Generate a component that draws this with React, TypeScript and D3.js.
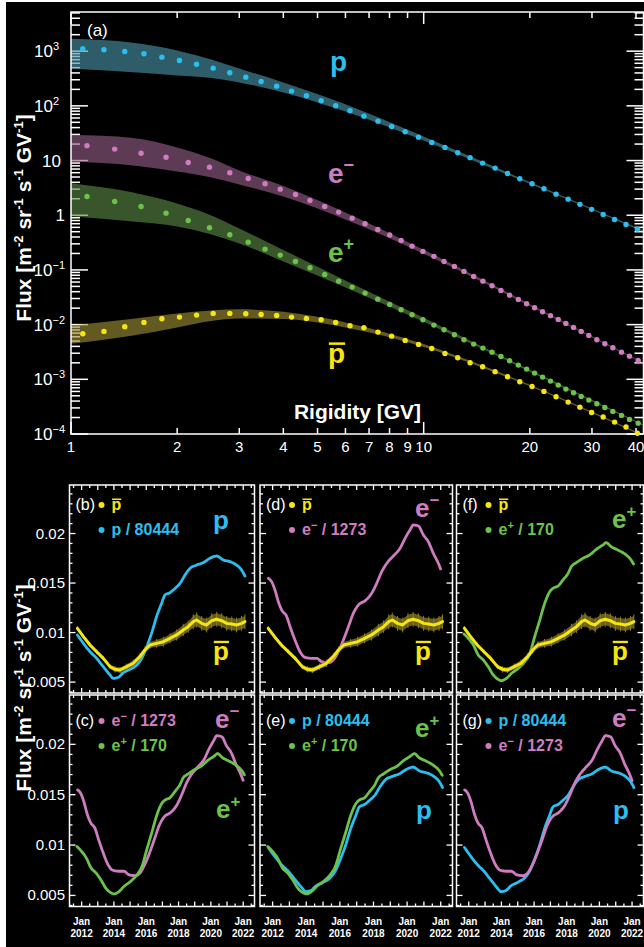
import React from 'react';
import * as d3 from 'd3';

const FONT = "'Liberation Sans', Arial, Helvetica, sans-serif";
const CYAN = '#2bbfef';
const PINK = '#d07cc0';
const GREEN = '#6cc24a';
const YELLOW = '#f5e612';
const OLIVE = '#8a7e22';

// ---------- Panel (a): spectra ----------
const protonRigidity = [1.08, 1.24, 1.42, 1.61, 1.81, 2.03, 2.27, 2.53, 2.82, 3.13, 3.46, 3.83, 4.22, 4.65, 5.12, 5.63, 6.18, 6.77, 7.42, 8.11, 8.86, 9.67, 10.54, 11.49, 12.49, 13.54, 14.69, 15.94, 17.29, 18.73, 20.29, 21.93, 23.73, 25.68, 27.73, 29.93, 32.28, 34.78, 37.47, 40.37];
const protonFlux = [1107, 1061, 987, 896, 776, 676, 578, 489, 403, 335, 279, 229, 186, 153, 124, 100.5, 81.3, 64.8, 52.5, 42.0, 33.6, 26.8, 21.4, 17.4, 13.9, 11.3, 8.98, 7.27, 5.81, 4.65, 3.77, 3.05, 2.43, 1.97, 1.58, 1.28, 1.035, 0.838, 0.679, 0.557];
const antiprotonFlux = [6.82e-3, 7.52e-3, 9.16e-3, 1.097e-2, 1.282e-2, 1.371e-2, 1.492e-2, 1.603e-2, 1.603e-2, 1.58e-2, 1.535e-2, 1.472e-2, 1.371e-2, 1.297e-2, 1.228e-2, 1.097e-2, 9.55e-3, 8.78e-3, 7.29e-3, 6.16e-3, 5.14e-3, 4.35e-3, 3.67e-3, 2.97e-3, 2.48e-3, 2.01e-3, 1.70e-3, 1.38e-3, 1.115e-3, 9.03e-4, 7.41e-4, 6.01e-4, 4.81e-4, 3.83e-4, 3.10e-4, 2.48e-4, 2.04e-4, 1.65e-4, 1.34e-4, 1.03e-4];
const leptonRigidity = [1.11, 1.33, 1.58, 1.86, 2.15, 2.47, 2.82, 3.18, 3.55, 3.92, 4.33, 4.76, 5.24, 5.74, 6.27, 6.82, 7.41, 8.01, 8.63, 9.27, 9.95, 10.69, 11.42, 12.22, 13.01, 13.86, 14.72, 15.62, 16.56, 17.52, 18.55, 19.58, 20.63, 21.73, 22.89, 24.07, 25.30, 26.60, 27.97, 29.39, 30.97, 32.63, 34.38, 36.38, 38.33, 40.57];
const electronFlux = [18.7, 16.2, 13.6, 11.5, 9.23, 7.57, 5.98, 4.71, 3.77, 3.00, 2.40, 1.86, 1.45, 1.14, 0.885, 0.700, 0.550, 0.436, 0.346, 0.272, 0.218, 0.177, 0.143, 0.116, 0.0939, 0.0760, 0.0624, 0.0514, 0.0422, 0.0346, 0.0289, 0.0241, 0.0204, 0.0172, 0.0146, 0.01245, 0.01052, 0.00889, 0.00751, 0.00635, 0.00530, 0.00448, 0.00378, 0.00314, 0.00265, 0.00221];
const positronFlux = [2.207, 1.788, 1.448, 1.092, 0.803, 0.591, 0.440, 0.322, 0.240, 0.1865, 0.1430, 0.1097, 0.0827, 0.0624, 0.0485, 0.0377, 0.0292, 0.0234, 0.01873, 0.01517, 0.01229, 0.00979, 0.00807, 0.00654, 0.00530, 0.00440, 0.00372, 0.00314, 0.00262, 0.00219, 0.00182, 0.001537, 0.001298, 0.001097, 0.000927, 0.000783, 0.000662, 0.000569, 0.000487, 0.000417, 0.000358, 0.000306, 0.000259, 0.000219, 0.000185, 0.000158];

// time-variation bands (min / max over the period)
const bandRigidity = [1, 1.5, 2, 2.5, 3, 4, 6, 10, 15, 20, 42];
const protonBandHigh = [1685, 1424, 1030, 705, 483, 268, 107, 27.6, 8.98, 4.05, 0.525];
const protonBandLow = [476, 413, 360, 324, 268, 176, 79, 23.3, 8.05, 3.75, 0.495];
const electronBandHigh = [29.6, 25.9, 17.4, 10.9, 6.59, 3.43, 1.125, 0.234, 0.062, 0.0236, 0.00203];
const electronBandLow = [9.63, 8.13, 6.32, 4.91, 3.66, 2.21, 0.838, 0.198, 0.056, 0.0218, 0.00193];
const positronBandHigh = [3.86, 2.61, 1.64, 0.991, 0.574, 0.232, 0.0643, 0.01336, 0.00371, 0.00149, 0.000149];
const positronBandLow = [0.963, 0.770, 0.624, 0.446, 0.305, 0.143, 0.0479, 0.0113, 0.00336, 0.00138, 0.000141];
const antiprotonBandHigh = [9.67e-3, 1.282e-2, 1.603e-2, 1.82e-2, 1.90e-2, 1.71e-2, 1.097e-2, 4.4e-3, 1.69e-3, 7.96e-4, 9.6e-5];
const antiprotonBandLow = [4.48e-3, 6.35e-3, 8.89e-3, 1.17e-2, 1.30e-2, 1.27e-2, 8.89e-3, 3.9e-3, 1.55e-3, 7.45e-4, 9.0e-5];

const xTickMajor = [1, 10];
const xTickLabels = [1, 2, 3, 4, 5, 6, 7, 8, 9, 10, 20, 30, 40];
const yDecades = [-4, -3, -2, -1, 0, 1, 2, 3];

// ---------- Panels (b)-(g): time series ----------
const protonTime = [2011.74, 2012.11, 2012.52, 2012.93, 2013.34, 2013.76, 2013.96, 2014.27, 2014.58, 2014.99, 2015.41, 2015.72, 2016.03, 2016.33, 2016.64, 2016.95, 2017.16, 2017.47, 2017.78, 2018.09, 2018.40, 2018.71, 2019.12, 2019.53, 2019.94, 2020.36, 2020.77, 2021.18, 2021.59, 2021.90, 2022.11];
const protonScaled = [0.00976, 0.00891, 0.00807, 0.00740, 0.00656, 0.00572, 0.00538, 0.00548, 0.00595, 0.00629, 0.00673, 0.00740, 0.00858, 0.00992, 0.01161, 0.01295, 0.01379, 0.01403, 0.01446, 0.01497, 0.01581, 0.01648, 0.01682, 0.01706, 0.01750, 0.01773, 0.01733, 0.01716, 0.01682, 0.01632, 0.01571];
const electronTime = [2011.75, 2011.94, 2012.14, 2012.34, 2012.54, 2012.84, 2013.04, 2013.33, 2013.63, 2013.93, 2014.32, 2014.62, 2014.92, 2015.32, 2015.61, 2015.91, 2016.21, 2016.51, 2016.80, 2017.10, 2017.50, 2017.89, 2018.19, 2018.49, 2018.79, 2019.18, 2019.58, 2019.88, 2020.17, 2020.37, 2020.67, 2020.97, 2021.26, 2021.56, 2021.86, 2022.00];
const electronScaled = [0.01548, 0.01514, 0.01430, 0.01312, 0.01228, 0.01161, 0.01060, 0.00925, 0.00807, 0.00750, 0.00740, 0.00740, 0.00706, 0.00696, 0.00723, 0.00807, 0.00925, 0.01060, 0.01194, 0.01278, 0.01322, 0.01396, 0.01497, 0.01615, 0.01699, 0.01773, 0.01851, 0.01952, 0.02036, 0.02086, 0.02076, 0.01985, 0.01918, 0.01800, 0.01699, 0.01639];
const positronTime = [2011.71, 2011.97, 2012.28, 2012.58, 2012.89, 2013.19, 2013.50, 2013.80, 2014.01, 2014.31, 2014.62, 2015.03, 2015.43, 2015.74, 2016.04, 2016.35, 2016.65, 2016.96, 2017.16, 2017.47, 2017.77, 2018.08, 2018.28, 2018.59, 2018.99, 2019.40, 2019.81, 2020.21, 2020.42, 2020.72, 2021.03, 2021.33, 2021.64, 2021.94, 2022.09];
const positronScaled = [0.00986, 0.00942, 0.00875, 0.00774, 0.00723, 0.00656, 0.00572, 0.00528, 0.00515, 0.00538, 0.00589, 0.00639, 0.00706, 0.00791, 0.00959, 0.01127, 0.01295, 0.01413, 0.01447, 0.01470, 0.01531, 0.01598, 0.01665, 0.01706, 0.01750, 0.01783, 0.01841, 0.01884, 0.01908, 0.01867, 0.01841, 0.01817, 0.01783, 0.01733, 0.01692];
const antiprotonTime = [2011.74, 2012.11, 2012.52, 2012.93, 2013.34, 2013.76, 2014.07, 2014.38, 2014.79, 2015.20, 2015.61, 2015.92, 2016.23, 2016.64, 2017.06, 2017.47, 2017.88, 2018.29, 2018.60, 2018.91, 2019.12, 2019.43, 2019.74, 2020.05, 2020.36, 2020.67, 2020.98, 2021.29, 2021.59, 2021.90, 2022.11];
const antiprotonTS = [0.01043, 0.00959, 0.00875, 0.00807, 0.00740, 0.00656, 0.00629, 0.00622, 0.00656, 0.00690, 0.00757, 0.00824, 0.00875, 0.00891, 0.00908, 0.00942, 0.00976, 0.01026, 0.01060, 0.01110, 0.01127, 0.01093, 0.01077, 0.01120, 0.01134, 0.01120, 0.01093, 0.01087, 0.01077, 0.01093, 0.01110];
const antiprotonErr = [0.0002, 0.0002, 0.0002, 0.0002, 0.0002, 0.0002, 0.00025, 0.00025, 0.00025, 0.0003, 0.0003, 0.0003, 0.0003, 0.00035, 0.0004, 0.0004, 0.00045, 0.0005, 0.0005, 0.0006, 0.0006, 0.0006, 0.0006, 0.0006, 0.0006, 0.0006, 0.0006, 0.0006, 0.0006, 0.0006, 0.0006];

const yearLabels = [2012, 2014, 2016, 2018, 2020, 2022];
const fluxTickLabels = [0.005, 0.01, 0.015, 0.02];
const timeDomain = [2011.25, 2022.7];
const fluxDomain = [0.0039, 0.0249];

type Key = 'p' | 'em' | 'ep' | 'pbar';

const SERIES: Record<Key, { t: number[]; v: number[]; color: string; legend: string }> = {
  p: { t: protonTime, v: protonScaled, color: CYAN, legend: ' / 80444' },
  em: { t: electronTime, v: electronScaled, color: PINK, legend: ' / 1273' },
  ep: { t: positronTime, v: positronScaled, color: GREEN, legend: ' / 170' },
  pbar: { t: antiprotonTime, v: antiprotonTS, color: YELLOW, legend: '' },
};

const cols = [
  { x0: 69.5, x1: 254.5 },
  { x0: 260, x1: 452.5 },
  { x0: 456.5, x1: 643.5 },
];
const rows = [
  { y0: 485, y1: 693, legendDy: 25 },
  { y0: 695, y1: 906.5, legendDy: 31 },
];

const panels: { id: string; col: number; row: number; keys: Key[]; big: { key: Key; x: number; y: number }[] }[] = [
  { id: '(b)', col: 0, row: 0, keys: ['pbar', 'p'], big: [{ key: 'p', x: 213, y: 528.5 }, { key: 'pbar', x: 213, y: 659.5 }] },
  { id: '(d)', col: 1, row: 0, keys: ['pbar', 'em'], big: [{ key: 'em', x: 415, y: 517 }, { key: 'pbar', x: 415, y: 659.5 }] },
  { id: '(f)', col: 2, row: 0, keys: ['pbar', 'ep'], big: [{ key: 'ep', x: 612, y: 528 }, { key: 'pbar', x: 612, y: 659.5 }] },
  { id: '(c)', col: 0, row: 1, keys: ['em', 'ep'], big: [{ key: 'em', x: 215, y: 728 }, { key: 'ep', x: 216, y: 818 }] },
  { id: '(e)', col: 1, row: 1, keys: ['p', 'ep'], big: [{ key: 'ep', x: 415, y: 737 }, { key: 'p', x: 416, y: 818.5 }] },
  { id: '(g)', col: 2, row: 1, keys: ['p', 'em'], big: [{ key: 'em', x: 612, y: 727 }, { key: 'p', x: 613, y: 818.5 }] },
];

function Species({ k, x, y, size, sup }: { k: Key; x: number; y: number; size: number; sup: number }) {
  const color = SERIES[k].color;
  const fw = 'bold';
  if (k === 'p' || k === 'pbar') {
    const w = size * 0.611;
    return (
      <g>
        <text x={x} y={y} fontSize={size} fontWeight={fw} fill={color} fontFamily={FONT}>p</text>
        {k === 'pbar' && (
          <rect x={x + size * 0.03} y={y - size * 0.519 - size * 0.2} width={w - size * 0.03} height={Math.max(1.5, size * 0.09)} fill={color} />
        )}
      </g>
    );
  }
  const sign = k === 'em' ? '\u2212' : '+';
  return (
    <text x={x} y={y} fontSize={size} fontWeight={fw} fill={color} fontFamily={FONT}>
      e<tspan dy={-sup} fontSize={size * 0.65}>{sign}</tspan>
    </text>
  );
}

function FluxLabel({ cx, cy }: { cx: number; cy: number }) {
  const s = 13;
  const d = 8;
  return (
    <text transform={`translate(${cx},${cy}) rotate(-90)`} textAnchor="middle" fontSize={21} fontWeight="bold" fill="#fff" fontFamily={FONT}>
      Flux [m<tspan dy={-d} fontSize={s}>-2</tspan>
      <tspan dy={d}>{' sr'}</tspan>
      <tspan dy={-d} fontSize={s}>-1</tspan>
      <tspan dy={d}>{' s'}</tspan>
      <tspan dy={-d} fontSize={s}>-1</tspan>
      <tspan dy={d}>{' GV'}</tspan>
      <tspan dy={-d} fontSize={s}>-1</tspan>
      <tspan dy={d}>]</tspan>
    </text>
  );
}

export default function App() {
  // ---- panel (a) scales
  const L = 71, R = 643.5, T = 12, B = 434;
  const xR = d3.scaleLog().domain([1, 42]).range([L, R]);
  const yF = d3.scaleLog().domain([1e-4, 5200]).range([B, T]);

  const bandArea = (hi: number[], lo: number[]) =>
    d3
      .area<number>()
      .x((_, i) => xR(bandRigidity[i]))
      .y0((_, i) => yF(lo[i]))
      .y1((_, i) => yF(hi[i]))
      .curve(d3.curveMonotoneX)(bandRigidity.map((_, i) => i)) || '';

  const bands = [
    { hi: protonBandHigh, lo: protonBandLow, fill: 'rgba(75,150,170,0.62)' },
    { hi: electronBandHigh, lo: electronBandLow, fill: 'rgba(150,95,135,0.62)' },
    { hi: positronBandHigh, lo: positronBandLow, fill: 'rgba(90,137,70,0.62)' },
    { hi: antiprotonBandHigh, lo: antiprotonBandLow, fill: 'rgba(160,146,55,0.62)' },
  ];
  const spectra = [
    { r: protonRigidity, f: protonFlux, color: CYAN },
    { r: leptonRigidity, f: electronFlux, color: PINK },
    { r: leptonRigidity, f: positronFlux, color: GREEN },
    { r: protonRigidity, f: antiprotonFlux, color: YELLOW },
  ];

  const xMinor: number[] = [2, 3, 4, 5, 6, 7, 8, 9, 20, 30, 40];
  const yMajor = yDecades.map((d) => Math.pow(10, d));
  const yMinor: number[] = [];
  yDecades.forEach((d) => {
    for (let k = 2; k <= 9; k++) {
      const v = k * Math.pow(10, d);
      if (v <= 5200) yMinor.push(v);
    }
  });

  const tickEls: React.ReactNode[] = [];
  xTickMajor.forEach((v, i) => {
    const x = xR(v);
    tickEls.push(<line key={`xM${i}`} x1={x} x2={x} y1={B} y2={B - 12} />);
    tickEls.push(<line key={`xMt${i}`} x1={x} x2={x} y1={T} y2={T + 12} />);
  });
  xMinor.forEach((v, i) => {
    const x = xR(v);
    tickEls.push(<line key={`xm${i}`} x1={x} x2={x} y1={B} y2={B - 6} />);
    tickEls.push(<line key={`xmt${i}`} x1={x} x2={x} y1={T} y2={T + 6} />);
  });
  yMajor.forEach((v, i) => {
    const y = yF(v);
    tickEls.push(<line key={`yM${i}`} x1={L} x2={L + 17} y1={y} y2={y} />);
    tickEls.push(<line key={`yMr${i}`} x1={R} x2={R - 17} y1={y} y2={y} />);
  });
  yMinor.forEach((v, i) => {
    const y = yF(v);
    tickEls.push(<line key={`ym${i}`} x1={L} x2={L + 9} y1={y} y2={y} />);
    tickEls.push(<line key={`ymr${i}`} x1={R} x2={R - 9} y1={y} y2={y} />);
  });

  const yLabel = (d: number) => {
    const y = yF(Math.pow(10, d)) + 6;
    if (d === 0) return <text key={`yl${d}`} x={65} y={y} textAnchor="end">1</text>;
    if (d === 1) return <text key={`yl${d}`} x={61} y={y} textAnchor="end">10</text>;
    const exp = d < 0 ? `\u2212${-d}` : `${d}`;
    return (
      <text key={`yl${d}`} x={d > 0 ? 59 : 65} y={y} textAnchor="end">
        10<tspan dy={-7} fontSize={11}>{exp}</tspan>
      </text>
    );
  };

  // ---- bottom panels
  const lineGen = (tx: d3.ScaleLinear<number, number>, vy: d3.ScaleLinear<number, number>, t: number[], v: number[], curve: d3.CurveFactory) =>
    d3
      .line<number>()
      .x((i) => tx(t[i]))
      .y((i) => vy(v[i]))
      .curve(curve)(t.map((_, i) => i)) || '';

  const years: number[] = d3.range(2012, 2023);
  const halfYears: number[] = d3.range(2011.5, 2022.6, 1);
  const minorFlux: number[] = d3.range(4, 25).map((k) => k / 1000).filter((v) => Math.round(v * 1000) % 5 !== 0);

  return (
    <svg width={644} height={947} style={{ position: 'absolute', left: 0, top: 0, background: '#fff' }} fontFamily={FONT}>
      <rect x={6} y={2} width={638} height={945} fill="#000" />
      <defs>
        <clipPath id="clipA">
          <rect x={L} y={T} width={R - L} height={B - T} />
        </clipPath>
      </defs>

      {/* ===== Panel (a) ===== */}
      <g stroke="#fff" strokeWidth={1.5}>{tickEls}</g>
      <g clipPath="url(#clipA)">
        {bands.map((b, i) => (
          <path key={`band${i}`} d={bandArea(b.hi, b.lo)} fill={b.fill} />
        ))}
      </g>
      <rect x={L} y={T} width={R - L} height={B - T} fill="none" stroke="#fff" strokeWidth={1.5} />
      {spectra.map((s, si) => (
        <g key={`sp${si}`} fill={s.color}>
          {s.r.map((r, i) => (
            <circle key={i} cx={xR(r)} cy={yF(s.f[i])} r={2.7} />
          ))}
        </g>
      ))}
      <g fill="#fff" fontSize={17}>
        {yDecades.map((d) => yLabel(d))}
      </g>
      <g fill="#fff" fontSize={15} textAnchor="middle">
        {xTickLabels.map((v) => (
          <text key={`xl${v}`} x={xR(v)} y={452}>{v}</text>
        ))}
      </g>
      <text x={357.5} y={419} textAnchor="middle" fontSize={21} fontWeight="bold" fill="#fff">Rigidity [GV]</text>
      <text x={87} y={36} fontSize={17} fill="#fff">(a)</text>
      <FluxLabel cx={31} cy={218} />
      <Species k="p" x={330} y={71} size={28} sup={12} />
      <Species k="em" x={328} y={183} size={28} sup={12} />
      <Species k="ep" x={328} y={261.5} size={28} sup={12} />
      <Species k="pbar" x={328} y={362.5} size={28} sup={12} />

      {/* ===== Panels (b)-(g) ===== */}
      {panels.map((pn) => {
        const c = cols[pn.col];
        const rw = rows[pn.row];
        const tx = d3.scaleLinear().domain(timeDomain).range([c.x0, c.x1]);
        const vy = d3.scaleLinear().domain(fluxDomain).range([rw.y1, rw.y0]);
        const drawOrder = [...pn.keys.filter((k) => k !== 'pbar'), ...pn.keys.filter((k) => k === 'pbar')];
        const ticks: React.ReactNode[] = [];
        years.forEach((yr) => {
          const x = tx(yr);
          ticks.push(<line key={`t${yr}`} x1={x} x2={x} y1={rw.y1} y2={rw.y1 - 5} />);
          ticks.push(<line key={`tt${yr}`} x1={x} x2={x} y1={rw.y0} y2={rw.y0 + 5} />);
        });
        halfYears.forEach((yr) => {
          const x = tx(yr);
          ticks.push(<line key={`h${yr}`} x1={x} x2={x} y1={rw.y1} y2={rw.y1 - 3} />);
          ticks.push(<line key={`ht${yr}`} x1={x} x2={x} y1={rw.y0} y2={rw.y0 + 3} />);
        });
        fluxTickLabels.forEach((v) => {
          const y = vy(v);
          ticks.push(<line key={`f${v}`} x1={c.x0} x2={c.x0 + 6} y1={y} y2={y} />);
          ticks.push(<line key={`fr${v}`} x1={c.x1} x2={c.x1 - 6} y1={y} y2={y} />);
        });
        minorFlux.forEach((v) => {
          const y = vy(v);
          ticks.push(<line key={`m${v}`} x1={c.x0} x2={c.x0 + 3} y1={y} y2={y} />);
          ticks.push(<line key={`mr${v}`} x1={c.x1} x2={c.x1 - 3} y1={y} y2={y} />);
        });
        return (
          <g key={pn.id}>
            {drawOrder.map((k) => {
              const s = SERIES[k];
              if (k === 'pbar') {
                const idx = s.t.map((_, i) => i);
                const errArea =
                  d3
                    .area<number>()
                    .x((i) => tx(s.t[i]))
                    .y0((i) => vy(s.v[i] - antiprotonErr[i]))
                    .y1((i) => vy(s.v[i] + antiprotonErr[i]))
                    .curve(d3.curveLinear)(idx) || '';
                return (
                  <g key={k}>
                    <path d={errArea} fill={OLIVE} opacity={0.75} />
                    {idx.map((i) => (
                      <line key={i} x1={tx(s.t[i])} x2={tx(s.t[i])} y1={vy(s.v[i] - antiprotonErr[i] * 1.25)} y2={vy(s.v[i] + antiprotonErr[i] * 1.25)} stroke={OLIVE} strokeWidth={1} />
                    ))}
                    <path d={lineGen(tx, vy, s.t, s.v, d3.curveLinear)} fill="none" stroke={s.color} strokeWidth={3} strokeLinejoin="round" strokeLinecap="round" />
                  </g>
                );
              }
              return (
                <path key={k} d={lineGen(tx, vy, s.t, s.v, d3.curveMonotoneX)} fill="none" stroke={s.color} strokeWidth={2.8} strokeLinecap="round" strokeDasharray="1.6 0.6" />
              );
            })}
            <g stroke="#fff" strokeWidth={1.3}>{ticks}</g>
            <rect x={c.x0} y={rw.y0} width={c.x1 - c.x0} height={rw.y1 - rw.y0} fill="none" stroke="#fff" strokeWidth={1.5} />
            {/* legend */}
            <text x={c.x0 + 6} y={rw.y0 + rw.legendDy} fontSize={16} fill="#fff">{pn.id}</text>
            {pn.keys.map((k, li) => {
              const by = rw.y0 + rw.legendDy + li * 25;
              const s = SERIES[k];
              return (
                <g key={`lg${k}`}>
                  <circle cx={c.x0 + 32} cy={by - 5} r={3} fill={s.color} />
                  {k === 'pbar' ? (
                    <Species k="pbar" x={c.x0 + 42} y={by} size={16} sup={6} />
                  ) : (
                    <text x={c.x0 + 42} y={by} fontSize={16} fontWeight="bold" fill={s.color}>
                      {k === 'p' ? 'p' : 'e'}
                      {k !== 'p' && (
                        <tspan dy={-6} fontSize={11}>{k === 'em' ? '\u2212' : '+'}</tspan>
                      )}
                      <tspan dy={k !== 'p' ? 6 : 0}>{s.legend}</tspan>
                    </text>
                  )}
                </g>
              );
            })}
            {pn.big.map((b) => (
              <Species key={`big${b.key}`} k={b.key} x={b.x} y={b.y} size={26} sup={11} />
            ))}
            {/* y labels */}
            {pn.col === 0 &&
              fluxTickLabels.map((v) => (
                <text key={`fl${v}`} x={65} y={vy(v) + 5} textAnchor="end" fontSize={15} fill="#fff">
                  {String(v)}
                </text>
              ))}
            {pn.row === 1 &&
              yearLabels.map((yr) => (
                <g key={`yr${yr}`} fontSize={10} fontWeight="bold" fill="#fff" textAnchor="middle">
                  <text x={tx(yr)} y={925}>Jan</text>
                  <text x={tx(yr)} y={937}>{yr}</text>
                </g>
              ))}
          </g>
        );
      })}
      <FluxLabel cx={31} cy={688} />
    </svg>
  );
}
